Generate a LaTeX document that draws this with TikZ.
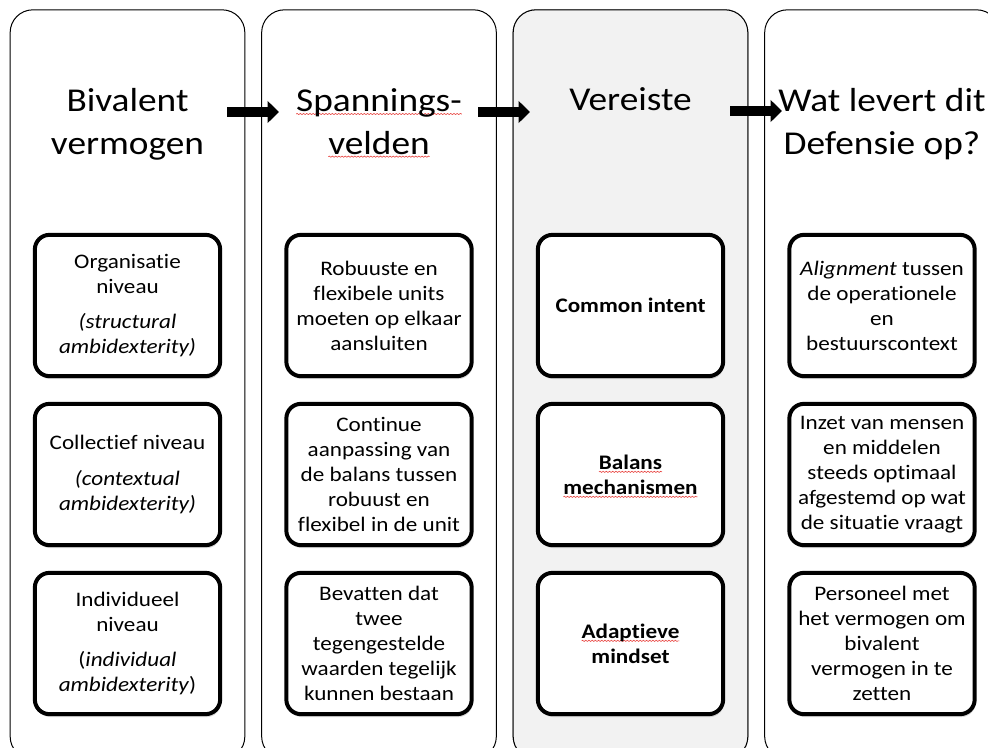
\documentclass[tikz,border=0pt]{standalone}
\usepackage{fontspec}
\setmainfont{Carlito}[FakeStretch=1.12,Ligatures={NoCommon}]
\usetikzlibrary{positioning,arrows.meta,shadows,decorations.pathmorphing}
\definecolor{ink}{HTML}{000000}
\definecolor{lane}{HTML}{F2F2F2}
\definecolor{spell}{HTML}{E8433F}
\newcommand\squig[1]{\setbox0=\hbox{#1}\makebox[0pt][l]{\tikz[overlay]
  \draw[spell,line width=0.45pt,decorate,
    decoration={snake,amplitude=0.45pt,segment length=2.4pt}]
    (0pt,-2pt) -- (\wd0,-2pt);}\box0}

\tikzset{
  lanebox/.style={draw=ink,line width=0.75pt,rounded corners=17pt,
    minimum width=176pt,minimum height=562pt,inner sep=0pt},
  itembox/.style={draw=ink,fill=white,line width=3pt,rounded corners=11pt,
    minimum width=139pt,minimum height=106pt,inner sep=0pt,
    drop shadow={shadow xshift=0.8pt,shadow yshift=-2.2pt,opacity=0.3}},
  itemtext/.style={align=center,inner sep=0pt,
    font=\fontsize{15.5}{18.75}\selectfont},
  headtext/.style={align=center,font=\fontsize{25}{32}\selectfont,anchor=base},
  flow/.style={draw=ink,line width=7.5pt,-{Triangle[length=8.5pt,width=16pt]}}
}

\begin{document}
\begin{tikzpicture}[x=0.75pt,y=-0.75pt]
      \useasboundingbox (0,0) rectangle (988,747);
      \clip (0,0) rectangle (988,747);
      % lanes
      \foreach \c/\x in {1/127.5,2/379,3/630.5,4/882}{
        \node[lanebox] (lane\c) at (\x,384.5) {};}
      \fill[lane,rounded corners=17pt] (lane3.south west) rectangle (lane3.north east);
      \node[lanebox] at (lane3) {};
      % headings
      \node[headtext] (head1) at (lane1.center |- 0,154) {Bivalent\\vermogen};
      \node[headtext] (head2) at (lane2.center |- 0,154) {\squig{Spannings-}\\\squig{velden}};
      \node[headtext] (head3) at (lane3.center |- 0,110) {Vereiste};
      \node[headtext] (head4) at (lane4.center |- 0,154) {Wat levert dit\\Defensie op?};
      % boxes
      \foreach \c/\r/\t in {
        1/1/{Organisatie\\niveau\\[7.5pt]\textit{(structural}\\\textit{ambidexterity)}},
        1/2/{Collectief niveau\\[8pt]\textit{(contextual}\\\textit{ambidexterity)}},
        1/3/{Individueel\\niveau\\[7pt](\textit{individual}\\\textit{ambidexterity})},
        2/1/{Robuuste en\\flexibele units\\moeten op elkaar\\aansluiten},
        2/2/{Continue\\aanpassing van\\de balans tussen\\robuust en\\flexibel in de unit},
        2/3/{Bevatten dat\\twee\\tegengestelde\\waarden tegelijk\\kunnen bestaan},
        3/1/{\textbf{Common intent}},
        3/2/{\textbf{\squig{Balans}}\\\textbf{\squig{mechanismen}}},
        3/3/{\textbf{\squig{Adaptieve}}\\\textbf{mindset}},
        4/1/{\textit{Alignment} tussen\\de operationele\\en\\bestuurscontext},
        4/2/{Inzet van mensen\\en middelen\\steeds optimaal\\afgestemd op wat\\de situatie vraagt},
        4/3/{Personeel met\\het vermogen om\\bivalent\\vermogen in te\\zetten}}{
        \pgfmathsetmacro\y{305.5+(\r-1)*169}
        \node[itembox] (box\c\r) at (lane\c.center |- 0,\y) {};
        \node[itemtext] (txt\c\r) at (box\c\r) {\t};}
      % arrows
      \coordinate (f1s) at (227,112);
      \coordinate (f1e) at (279,112);
      \coordinate (f2s) at (478,112);
      \coordinate (f2e) at (530,112);
      \coordinate (f3s) at (730,111);
      \coordinate (f3e) at (782,111);
      \foreach \i in {1,2,3}{
        \draw[flow] (f\i s) -- (f\i e);}
    \end{tikzpicture}
\end{document}
